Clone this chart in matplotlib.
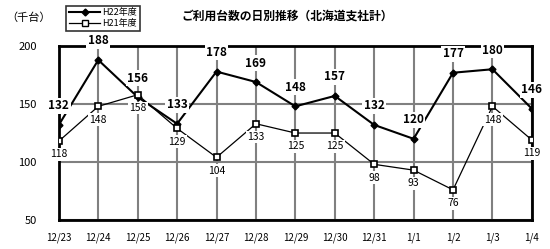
import matplotlib.pyplot as plt
from matplotlib.lines import Line2D

plt.rcParams['font.family'] = ['Noto Sans CJK JP', 'DejaVu Sans']

dates = ['12/23', '12/24', '12/25', '12/26', '12/27', '12/28', '12/29',
         '12/30', '12/31', '1/1', '1/2', '1/3', '1/4']
h22 = [132, 188, 156, 133, 178, 169, 148, 157, 132, 120, 177, 180, 146]
h21 = [118, 148, 158, 129, 104, 133, 125, 125, 98, 93, 76, 148, 119]

x = list(range(len(dates)))

fig = plt.figure(figsize=(5.5, 2.49), dpi=100)
ax = fig.add_axes([0.107, 0.1165, 0.86, 0.6985])

ax.plot(x, h22, color='black', lw=1.5, marker='D', ms=3.5, zorder=3)
ax.plot(x, h21, color='black', lw=0.9, marker='s', ms=4.5,
        markerfacecolor='white', markeredgewidth=1.2, zorder=3)

box = dict(facecolor='white', edgecolor='none', pad=1)
for i, v in enumerate(h22):
    ax.annotate(str(v), (i, v), xytext=(0, 9), textcoords='offset points',
                ha='center', va='bottom', fontsize=8.5, fontweight='bold',
                bbox=box, zorder=4, annotation_clip=False)
for i, v in enumerate(h21):
    ax.annotate(str(v), (i, v), xytext=(0, -6), textcoords='offset points',
                ha='center', va='top', fontsize=7.5,
                bbox=box, zorder=4, annotation_clip=False)

ax.set_xlim(0, 12)
ax.set_ylim(50, 200)
ax.set_xticks(x)
ax.set_xticklabels(dates, fontsize=7)
ax.set_yticks([50, 100, 150, 200])
ax.tick_params(length=0)
ax.tick_params(axis='y', pad=16, labelsize=8)
ax.tick_params(axis='x', pad=9)
ax.grid(True, color='#808080', lw=1.5)
ax.set_axisbelow(True)
for s in ax.spines.values():
    s.set_linewidth(2)
    s.set_color('black')

handles = [Line2D([], [], color='black', lw=1.5, marker='D', ms=3.5),
           Line2D([], [], color='black', lw=0.9, marker='s', ms=4.5,
                  markerfacecolor='white')]
leg = fig.legend(handles, ['H22年度', 'H21年度'], loc='upper left',
                 bbox_to_anchor=(0.112, 0.995), fontsize=6.5, frameon=True,
                 fancybox=False, edgecolor='black', handlelength=3.5,
                 borderpad=0.3, labelspacing=0.15, handletextpad=0.2)
leg.get_frame().set_linewidth(1.2)

fig.text(0.522, 0.935, 'ご利用台数の日別推移（北海道支社計）', ha='center',
         va='center', fontsize=8.5, fontweight='bold')
fig.text(0.012, 0.93, '（千台）', ha='left', va='center', fontsize=8)

fig.savefig('out.png', dpi=100)
